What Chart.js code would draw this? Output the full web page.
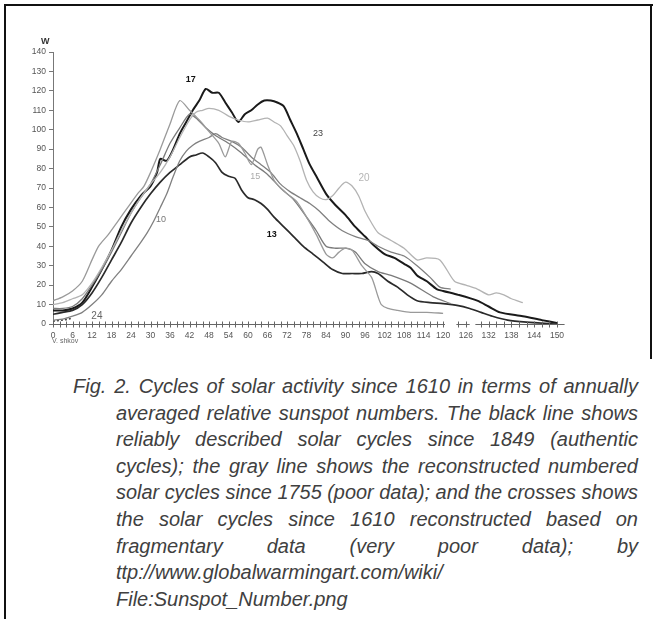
<!DOCTYPE html>
<html>
<head>
<meta charset="utf-8">
<script src="https://cdn.jsdelivr.net/npm/chart.js@4/dist/chart.umd.min.js"></script>
<style>
body { margin: 0; background: #fff; width: 657px; height: 619px; overflow: hidden; position: relative; font-family: "Liberation Sans", Arial, sans-serif; }
.rule { position: absolute; background: #111; }
#chartBox { position: absolute; left: 0; top: 0; width: 657px; height: 360px; }
.cap { position: absolute; font-style: italic; font-size: 20px; line-height: 24px; color: #404040; white-space: nowrap; transform-origin: left center;
       font-family: "Liberation Sans", Arial, sans-serif; }
#yTitle { position: absolute; left: 41px; top: 36px; font-size: 9px; font-weight: bold; color: #333; }
#xTitle { position: absolute; left: 52px; top: 337px; font-size: 7px; color: #666; }
</style>
</head>
<body>
<div class="rule" style="left:4px; top:4px; width:649px; height:2px;"></div>
<div class="rule" style="left:4px; top:4px; width:2px; height:615px;"></div>
<div class="rule" style="left:650px; top:4px; width:2px; height:355px;"></div>
<div id="chartBox"><canvas id="cycleChart" width="657" height="360"></canvas></div>
<div id="yTitle">W</div>
<div id="xTitle">V. shkov</div>
<script>
// months since cycle start, tick labels
const xTickVals = [0, 6, 12, 18, 24, 30, 36, 42, 48, 54, 60, 66, 72, 78, 84, 90, 96, 102, 108, 114, 120, 126, 132, 138, 144, 150];

// black thick line (17 / 23)
const monthsA = [0,3,6,9,12,15,18,21,24,27,30,32,33,35,37,39,41,43,45,47,49,51,53,55,57,59,61,63,65,67,69,71,73,75,77,79,81,84,87,90,93,96,99,102,105,108,110,112,115,118,120,124,129,132,135,141,146,150];
const valuesA = [7,7,8,11,19,28,38,50,59,66,71,78,85,84,90,98,104,110,115,121,119,119,114,109,104,108,110,113,115,115,114,112,105,98,90,82,76,67,61,56,50,45,40,36,34,31,29,25,22,18,17,15,12,9,6,4,2,0.5];

// black line (13)
const monthsB = [0,3,6,9,12,15,18,21,24,27,30,33,36,39,42,44,46,48,50,52,54,56,58,60,62,64,66,68,71,74,77,80,83,86,89,92,95,98,100,103,106,109,112,116,120,124,127,130,133,137,142,150];
const valuesB = [5,6,7,10,16,24,33,42,52,60,67,73,78,82,86,87,88,86,83,78,76,75,69,65,64,62,59,55,50,45,40,36,32,28,26,26,26,27,26,22,19,15,12,11,10.5,9.5,8,6,4,2,1,0];

// gray line (15)
const monthsC = [0,3,6,9,12,14,17,20,23,26,28,30,33,36,39,42,45,48,51,53,55,57,59,61,63,64,66,68,70,72,75,78,81,84,86,88,90,92,95,98,100,101,103,106,110,115,120];
const valuesC = [12,14,17,22,33,40,46,53,60,67,71,78,90,103,115,110,105,99,93,86,94,93,88,82,90,91,82,74,70,67,63,55,46,36,34,37,39,38,30,24,14,10,8,7,6,6,5.5];

// light gray line (20)
const monthsD = [0,3,6,9,12,15,18,21,24,27,30,33,36,39,42,44,46,48,51,54,57,60,63,66,68,70,72,74,76,78,80,82,84,86,88,90,92,94,96,98,100,104,108,112,115,119,123,126,129,132,134,136,138,141];
const valuesD = [10,11,13,15,21,29,38,48,57,65,72,78,86,96,105,109,110,111,110,107,105,104,105,106,104,102,97,92,84,74,68,65,64,66,70,73,71,66,58,52,47,43,39,33,34,33,22,20,18,15,16,15,13,11];

// gray late riser (10)
const monthsE = [0,3,6,9,12,15,18,21,24,27,29,31,33,35,37,39,41,43,45,48,50,52,55,58,61,64,67,70,73,76,79,82,85,89,93,97,100,104,108,112,116,119,122];
const valuesE = [2,2.5,4,6,10,15,22,28,35,42,47,53,60,67,76,84,89,92,94,96,98,96,94,91,86,82,78,72,68,65,62,58,53,48,45,43,40,37,35,30,24,19,18];

// unlabeled mid gray line
const monthsG = [0,3,6,9,12,15,18,21,24,27,30,33,36,39,42,44,47,50,54,58,62,66,70,74,78,81,84,87,90,93,96,100,104,110,117,122];
const valuesG = [8,8,9,13,20,28,37,47,57,65,72,82,93,101,108,106,101,97,93,88,82,77,70,64,55,48,40,39,39,37,31,27,25,21,14,10.5];

// current cycle (24)
const monthsH = [0, 2, 4, 6];
const valuesH = [1.5, 1.8, 2.2, 3];

// dotted marker at the end of the axis
const markerMonths = [151, 151];
const markerValues = [0, 9];

// cycle numbers written on the plot
const cycleNames = ['17', '23', '15', '20', '13', '10', '24'];
const cycleNameMonth = [42.4, 81.5, 62.2, 95.7, 67.3, 33.2, 13.5];
const cycleNameValue = [126, 98, 76, 75, 46, 54, 4];

// pieces of the broken month axis
const axisParts = [[0, 120.5], [123.5, 127], [128.5, 152]];

function toPoints(xs, ys) {
    return xs.map((x, i) => ({ x: x, y: ys[i] }));
}

// month axis: 0-120 and 120-150 are drawn at different densities
const breakAt = 120;
const splitFrac = 0.774;
class BrokenLinearScale extends Chart.LinearScale {
    getPixelForValue(value) {
        if (value === null || value === undefined) return NaN;
        let dec;
        if (value <= breakAt) {
            dec = (value - this.min) / (breakAt - this.min) * splitFrac;
        } else {
            dec = splitFrac + (value - breakAt) / (this.max - breakAt) * (1 - splitFrac);
        }
        return this.getPixelForDecimal(dec);
    }
    getValueForPixel(pixel) {
        const dec = this.getDecimalForPixel(pixel);
        if (dec <= splitFrac) return this.min + dec / splitFrac * (breakAt - this.min);
        return breakAt + (dec - splitFrac) / (1 - splitFrac) * (this.max - breakAt);
    }
}
BrokenLinearScale.id = 'brokenLinear';
BrokenLinearScale.defaults = Chart.LinearScale.defaults;
Chart.register(BrokenLinearScale);

// draw the x axis line with its gaps and crossing tick marks
const xAxisPlugin = {
    id: 'xAxisLine',
    afterDraw(chart) {
        const xs = chart.scales.x;
        const ys = chart.scales.y;
        const ctx = chart.ctx;
        const y0 = Math.round(ys.getPixelForValue(0)) + 0.5;
        ctx.save();
        ctx.strokeStyle = '#666';
        ctx.lineWidth = 1;
        ctx.beginPath();
        axisParts.forEach(function (part) {
            ctx.moveTo(xs.getPixelForValue(part[0]), y0);
            ctx.lineTo(xs.getPixelForValue(part[1]), y0);
            for (let m = Math.ceil(part[0] / 2) * 2; m <= Math.min(part[1], 150); m += 2) {
                const px = Math.round(xs.getPixelForValue(m)) + 0.5;
                ctx.moveTo(px, y0 - 3);
                ctx.lineTo(px, y0 + 3);
            }
        });
        ctx.stroke();
        ctx.restore();
    }
};

// cycle numbers next to the curves
const nameStyles = [
    { color: '#111', weight: 'bold', size: 9 },
    { color: '#444', weight: 'normal', size: 9 },
    { color: '#aaa', weight: 'normal', size: 9 },
    { color: '#b5b5b5', weight: 'normal', size: 10 },
    { color: '#111', weight: 'bold', size: 9 },
    { color: '#777', weight: 'normal', size: 9 },
    { color: '#666', weight: 'normal', size: 10 }
];
const namePlugin = {
    id: 'cycleNames',
    afterDatasetsDraw(chart) {
        const xs = chart.scales.x;
        const ys = chart.scales.y;
        const ctx = chart.ctx;
        ctx.save();
        ctx.textAlign = 'center';
        ctx.textBaseline = 'middle';
        cycleNames.forEach(function (name, i) {
            const st = nameStyles[i];
            ctx.fillStyle = st.color;
            ctx.font = st.weight + ' ' + st.size + 'px "Liberation Sans", Arial, sans-serif';
            ctx.fillText(name, xs.getPixelForValue(cycleNameMonth[i]), ys.getPixelForValue(cycleNameValue[i]));
        });
        ctx.restore();
    }
};

function lineSet(label, xs, ys, color, width) {
    return {
        label: label,
        data: toPoints(xs, ys),
        borderColor: color,
        borderWidth: width,
        pointRadius: 0,
        fill: false,
        tension: 0.25
    };
}

var ctx = document.getElementById('cycleChart').getContext('2d');
var cycleChart = new Chart(ctx, {
    type: 'line',
    data: {
        datasets: [
            lineSet('20', monthsD, valuesD, '#b3b3b3', 1.3),
            lineSet('15', monthsC, valuesC, '#9a9a9a', 1.3),
            lineSet('unnamed', monthsG, valuesG, '#7a7a7a', 1.3),
            lineSet('10', monthsE, valuesE, '#808080', 1.3),
            lineSet('13', monthsB, valuesB, '#2a2a2a', 1.7),
            lineSet('17/23', monthsA, valuesA, '#1a1a1a', 2),
            Object.assign(lineSet('24', monthsH, valuesH, '#444', 1.5), { borderDash: [2, 2], tension: 0 }),
            Object.assign(lineSet('end', markerMonths, markerValues, '#bbb', 1), { borderDash: [1, 2], tension: 0 })
        ]
    },
    options: {
        responsive: false,
        animation: false,
        layout: { padding: { top: 52, right: 100, bottom: 0, left: 0 } },
        plugins: {
            legend: { display: false },
            tooltip: { enabled: false }
        },
        scales: {
            x: {
                type: 'brokenLinear',
                min: 0,
                max: 150,
                afterBuildTicks: function (scale) {
                    scale.ticks = xTickVals.map(v => ({ value: v }));
                },
                afterFit: function (scale) { scale.height = 36; },
                border: { display: false },
                grid: { display: false, drawTicks: false },
                ticks: {
                    autoSkip: false,
                    maxRotation: 0,
                    padding: 7,
                    color: '#555',
                    font: { size: 8.5, family: '"Liberation Sans", Arial, sans-serif' },
                    callback: v => String(v)
                }
            },
            y: {
                min: 0,
                max: 140,
                afterFit: function (scale) { scale.width = 53; },
                border: { color: '#777' },
                grid: { drawOnChartArea: false, drawTicks: true, tickLength: 4, color: '#777' },
                ticks: {
                    stepSize: 10,
                    padding: 3,
                    color: '#555',
                    font: { size: 8.5, family: '"Liberation Sans", Arial, sans-serif' }
                }
            }
        }
    },
    plugins: [xAxisPlugin, namePlugin]
});

// caption below the chart, one justified line at a time
const captionLines = [
    'Fig. 2. Cycles of solar activity since 1610 in terms of annually',
    'averaged relative sunspot numbers. The black line shows',
    'reliably described solar cycles since 1849 (authentic',
    'cycles); the gray line shows the reconstructed numbered',
    'solar cycles since 1755 (poor data); and the crosses shows',
    'the solar cycles since 1610 reconstructed based on',
    'fragmentary data (very poor data); by',
    'ttp://www.globalwarmingart.com/wiki/',
    'File:Sunspot_Number.png'
];
const captionRight = 638;
captionLines.forEach(function (text, i) {
    const d = document.createElement('div');
    d.className = 'cap';
    d.textContent = text;
    const left = i === 0 ? 73 : 116;
    d.style.left = left + 'px';
    d.style.top = (374 + i * 26.6) + 'px';
    document.body.appendChild(d);
    const w = d.getBoundingClientRect().width;
    const target = captionRight - left;
    if (w > target) {
        d.style.transform = 'scaleX(' + (target / w) + ')';
    } else if (i < 7) {
        const gaps = (text.match(/ /g) || []).length;
        if (gaps) d.style.wordSpacing = ((target - w) / gaps) + 'px';
    }
});
</script>
</body>
</html>
